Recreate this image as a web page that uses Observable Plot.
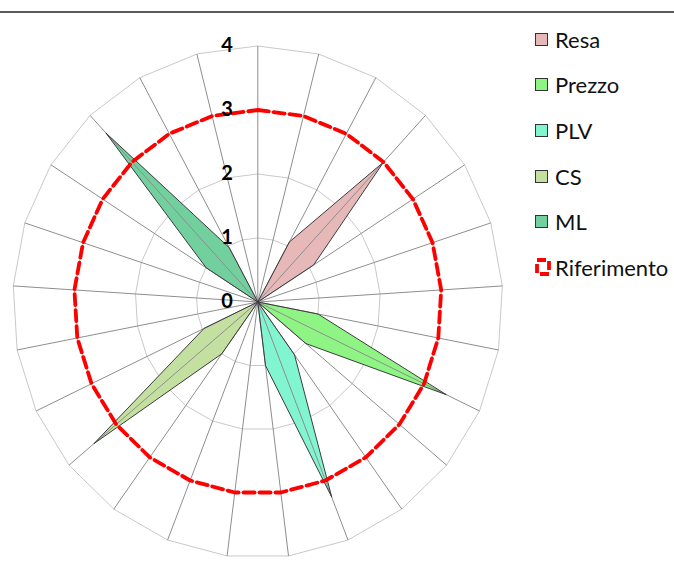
<!DOCTYPE html>
<html>
<head>
<meta charset="utf-8">
<script src="https://cdn.jsdelivr.net/npm/d3@7"></script>
<script src="https://cdn.jsdelivr.net/npm/@observablehq/plot@0.6"></script>
<style>
  html, body { margin: 0; padding: 0; background: #fff; }
  #wrap { position: relative; width: 674px; height: 561px; overflow: hidden; font-family: Lato, "Liberation Sans", sans-serif; }
  #topline { position: absolute; left: 0; top: 11px; width: 674px; height: 2px; background: #5a5a5a; }
  #chart { position: absolute; left: 0; top: 0; }
  #legend { position: absolute; left: 535px; top: 0; }
  .item { position: absolute; left: 0; white-space: nowrap; font-size: 22px; color: #111; display: flex; align-items: center; height: 24px; }
  .sw { width: 11px; height: 11px; border: 1.5px solid #333; margin-right: 7px; }
</style>
</head>
<body>
<div id="wrap">
  <div id="chart"></div>
  <div id="topline"></div>
  <div id="legend"></div>
</div>
<script>
// 25 spokes (categories)
const categories = ["1","2","3","4","5","6","7","8","9","10","11","12","13","14","15","16","17","18","19","20","21","22","23","24","25"];
const seriesNames = ["Resa", "Prezzo", "PLV", "CS", "ML", "Riferimento"];
const resa        = [0,0,1.07,3.0,1.08,0,0,0,0,0,0,0,0,0,0,0,0,0,0,0,0,0,0,0,0];
const prezzo      = [0,0,0,0,0,0,0,1.0,3.4,1.02,0,0,0,0,0,0,0,0,0,0,0,0,0,0,0];
const plv         = [0,0,0,0,0,0,0,0,0,0,1.02,3.28,1.0,0,0,0,0,0,0,0,0,0,0,0,0];
const cs          = [0,0,0,0,0,0,0,0,0,0,0,0,0,0,0,1.0,3.47,0.97,0,0,0,0,0,0,0];
const ml          = [0,0,0,0,0,0,0,0,0,0,0,0,0,0,0,0,0,0,0,0,0,1.0,3.62,0.97,0];
const riferimento = [3,3,3,3,3,3,3,3,3,3,3,3,3,3,3,3,3,3,3,3,3,3,3,3,3];
const ticks = [0, 1, 2, 3, 4];
const fills = ["#e6b9b8", "#8ef584", "#80f5d0", "#c4e0a0", "#72cf9e"];

const N = categories.length;
const ang = i => i * 2 * Math.PI / N;
const pts = (vals) => vals.map((v, i) => ({cat: categories[i], i, v}));
const px = d => d.v * Math.sin(ang(d.i));
const py = d => d.v * Math.cos(ang(d.i));

const seriesVals = [resa, prezzo, plv, cs, ml];
const rings = ticks.filter(t => t > 0).flatMap(t => categories.map((c, i) => ({ring: t, cat: c, i, v: t})));
const spokes = categories.map((c, i) => ({cat: c, i, v: ticks[ticks.length - 1]}));

const marks = [
  Plot.line(rings, {x: px, y: py, z: "ring", curve: "linear-closed", stroke: "#c9c9c9", strokeWidth: 1})
];
seriesVals.forEach((vals, k) => {
  marks.push(Plot.line(pts(vals), {x: px, y: py, curve: "linear-closed", fill: fills[k], stroke: "none"}));
});
marks.push(Plot.link(spokes, {x1: () => 0, y1: () => 0, x2: px, y2: py, stroke: "#8e8e8e", strokeWidth: 1}));
seriesVals.forEach((vals, k) => {
  marks.push(Plot.line(pts(vals), {x: px, y: py, curve: "linear-closed", fill: "none", stroke: "#3c3c3c", strokeWidth: 1}));
});
marks.push(Plot.line(pts(riferimento), {x: px, y: py, curve: "linear-closed", stroke: "#ff0000", strokeWidth: 3.8, strokeDasharray: "11,5"}));
marks.push(Plot.text(ticks, {x: () => 0, y: d => d, text: d => String(d), dx: -25, textAnchor: "end", fontWeight: "bold", fontSize: 20, fill: "#000", fontFamily: "Lato, 'Liberation Sans', sans-serif"}));

const chart = Plot.plot({
  width: 674, height: 561,
  marginLeft: 12.3, marginRight: 171.7, marginTop: 45.5, marginBottom: 3.5,
  x: {domain: [-4, 4], axis: null},
  y: {domain: [-4, 4], axis: null},
  style: {background: "transparent", overflow: "visible"},
  marks
});
document.getElementById("chart").appendChild(chart);

// legend
const legend = document.getElementById("legend");
const rowY = [39, 84, 130, 176, 221, 267];
seriesNames.forEach((name, k) => {
  const it = document.createElement("div");
  it.className = "item";
  it.style.top = (rowY[k] - 12) + "px";
  let sw;
  if (k < fills.length) {
    sw = document.createElement("div");
    sw.className = "sw";
    sw.style.background = fills[k];
  } else {
    sw = document.createElementNS("http://www.w3.org/2000/svg", "svg");
    sw.setAttribute("width", 16); sw.setAttribute("height", 18);
    sw.style.marginRight = "4px";
    sw.innerHTML = '<rect x="2" y="2" width="12" height="14" fill="none" stroke="#ff0000" stroke-width="3.8" stroke-dasharray="9,4"/>';
  }
  it.appendChild(sw);
  const t = document.createElement("span");
  t.textContent = name;
  it.appendChild(t);
  legend.appendChild(it);
});
</script>
</body>
</html>
